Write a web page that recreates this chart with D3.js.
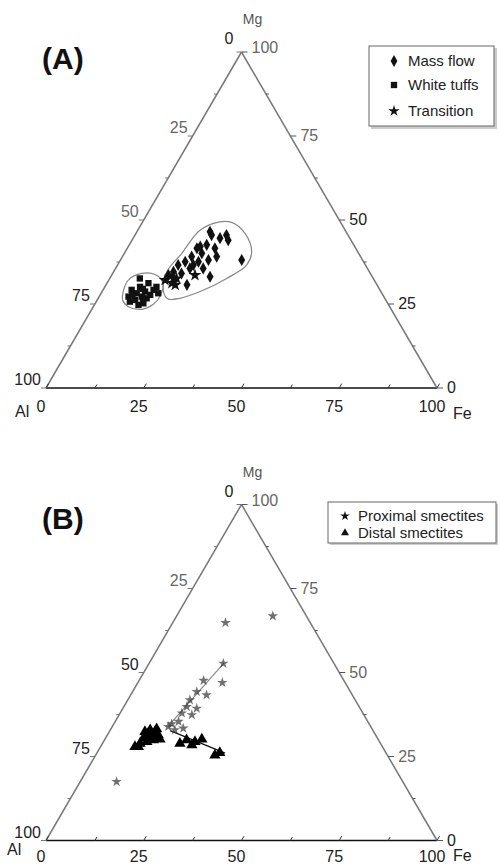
<!DOCTYPE html>
<html>
<head>
<meta charset="utf-8">
<script src="https://cdn.jsdelivr.net/npm/d3@7"></script>
<style>
  body { margin: 0; background: #fff; }
  text { font-family: "Liberation Sans", Arial, sans-serif; }
</style>
</head>
<body>
<div id="chart"></div>
<script>
// Al-Fe-Mg ternary, every point is [Fe %, Mg %] and Al = 100 - Fe - Mg

// panel (A)
var whiteTuffs = [[7.5,27.2],[7.3,29.2],[9.7,26.2],[9.1,28.2],[9.0,30.1],[10.9,27.2],[12.3,25.2],[11.0,28.7],
  [10.6,31.2],[12.8,27.7],[12.9,29.2],[13.2,30.1],[14.6,28.2],[7.7,32.6],[8.6,25.7],[12.4,26.7],[11.3,24.7],
  [8.2,27.8],[10.0,29.5],[11.8,26.0]];
var massFlow = [[14.5,33.6],[15.3,34.6],[15.5,36.6],[17.6,34.1],[16.8,37.6],[20.7,30.7],[19.0,35.6],[17.7,39.1],
  [17.8,41.6],[20.2,37.6],[19.8,40.1],[22.4,35.6],[19.8,42.6],[22.5,38.1],[25.4,33.1],[19.6,45.5],[22.4,41.6],
  [24.1,39.1],[22.2,44.6],[23.4,45.5],[24.6,44.0],[31.0,38.1],[18.7,46.5],[18.4,42.1],[19.4,36.6],[16.0,33.0]];
var transition = [[14.4,32.1],[16.6,31.2],[17.1,32.6],[21.3,33.6],[17.7,30.7]];
var envelopeTuffs = [[5.4,28.7],[5.0,32.1],[7.4,34.1],[11.0,33.8],[14.0,31.6],[15.5,27.7],[15.0,24.9],
  [12.8,23.4],[9.0,24.2],[6.5,26.2]];
var envelopeMassFlow = [[15.7,28.7],[13.6,34.6],[14.7,40.1],[15.7,46.5],[18.3,49.0],[22.8,49.3],[27.9,46.0],
  [32.3,40.6],[33.0,36.6],[29.9,32.6],[25.1,28.7],[20.9,26.7],[18.0,26.5]];

// panel (B)
var proximal = [[19.0,52.7],[21.6,47.0],[16.5,47.6],[16.4,44.3],[19.4,43.3],[15.9,41.8],[16.1,39.8],[18.9,39.3],
  [15.8,37.9],[18.6,37.4],[16.2,35.4],[14.8,34.7],[14.3,33.9],[18.4,33.4],[16.5,32.9],[13.5,64.8],[24.6,66.8],[9.3,17.5]];
var distal = [[8.8,27.9],[9.6,28.9],[9.7,30.4],[10.2,31.9],[10.2,32.9],[11.7,32.4],[13.0,31.4],[12.5,29.9],
  [11.1,29.4],[14.1,30.1],[9.1,32.4],[9.7,27.9],[11.7,33.2],[10.8,30.8],[12.0,30.8],
  [19.8,28.9],[21.0,29.9],[23.1,28.4],[23.4,29.4],[24.8,30.1],[30.5,25.4],[31.4,26.1]];
var proximalTrend = [[14.2,33.9],[19.1,52.8]];
var distalTrend = [[15.4,32.7],[32.8,26.0]];

var majorTicks = [0, 25, 50, 75, 100];
var minorTicks = [12.5, 37.5, 62.5, 87.5];

var svg = d3.select("#chart").append("svg")
  .attr("width", 500)
  .attr("height", 865);

var side = 391, tall = 336, left = 46;

function makePanel(base, opts) {
  var g = svg.append("g");

  // x scale works on Fe + Mg/2, y scale on Mg
  var x = d3.scaleLinear().domain([0, 100]).range([left, left + side]);
  var y = d3.scaleLinear().domain([0, 100]).range([base, base - tall]);
  function px(d) { return [x(d[0] + d[1] / 2), y(d[1])]; }

  var A = px([0, 0]), F = px([100, 0]), M = px([0, 100]);

  // edges
  g.append("line").attr("x1", A[0]).attr("y1", A[1]).attr("x2", F[0]).attr("y2", F[1])
    .attr("stroke", "#111").attr("stroke-width", 1.5);
  g.append("line").attr("x1", A[0]).attr("y1", A[1]).attr("x2", M[0]).attr("y2", M[1])
    .attr("stroke", "#777").attr("stroke-width", 1.5);
  g.append("line").attr("x1", F[0]).attr("y1", F[1]).attr("x2", M[0]).attr("y2", M[1])
    .attr("stroke", "#777").attr("stroke-width", 1.5);

  var allTicks = majorTicks.concat(minorTicks);

  // bottom (Fe)
  allTicks.forEach(function (v) {
    var p = px([v, 0]);
    var l = majorTicks.indexOf(v) >= 0 ? 5 : 4;
    g.append("line").attr("x1", p[0]).attr("y1", p[1]).attr("x2", p[0] + l * 0.5).attr("y2", p[1] - l * 0.87)
      .attr("stroke", "#333").attr("stroke-width", 1);
  });
  g.selectAll(".fe").data(majorTicks).enter().append("text")
    .attr("x", function (v) { return px([v, 0])[0] - 5; })
    .attr("y", base + opts.feDy)
    .attr("text-anchor", "middle")
    .attr("font-size", 16).attr("fill", "#222")
    .text(function (v) { return v; });

  // left (Al), 100 at the bottom, 0 at the apex
  allTicks.forEach(function (v) {
    var p = px([0, 100 - v]);
    var l = majorTicks.indexOf(v) >= 0 ? 5 : 3;
    g.append("line").attr("x1", p[0]).attr("y1", p[1]).attr("x2", p[0] - l).attr("y2", p[1])
      .attr("stroke", "#777").attr("stroke-width", 1);
  });
  g.selectAll(".al").data(majorTicks).enter().append("text")
    .attr("x", function (v) { return px([0, 100 - v])[0] - (v == 0 ? 8 : 5); })
    .attr("y", function (v) { return px([0, 100 - v])[1] - (v == 0 ? 8 : 3); })
    .attr("text-anchor", "end")
    .attr("font-size", 16).attr("fill", function (v) { return opts.grayAl.indexOf(v) >= 0 ? "#666" : "#222"; })
    .text(function (v) { return v; });

  // right (Mg), 0 at the bottom, 100 at the apex
  allTicks.forEach(function (v) {
    var p = px([100 - v, v]);
    var l = majorTicks.indexOf(v) >= 0 ? 6 : 3;
    g.append("line").attr("x1", p[0]).attr("y1", p[1]).attr("x2", p[0] + l).attr("y2", p[1])
      .attr("stroke", "#555").attr("stroke-width", 1);
  });
  g.selectAll(".mg").data(majorTicks).enter().append("text")
    .attr("x", function (v) { return px([100 - v, v])[0] + 10; })
    .attr("y", function (v) { return px([100 - v, v])[1] + (v == 100 ? 1 : 5); })
    .attr("text-anchor", "start")
    .attr("font-size", 16).attr("fill", function (v) { return opts.grayMg.indexOf(v) >= 0 ? "#666" : "#222"; })
    .text(function (v) { return v; });

  // vertex names
  g.append("text").attr("x", M[0] + 11).attr("y", M[1] - 28).attr("text-anchor", "middle")
    .attr("font-size", 14).attr("fill", "#555").text("Mg");
  g.append("text").attr("x", opts.alX).attr("y", opts.alY).attr("font-size", 16).attr("fill", "#222").text("Al");
  g.append("text").attr("x", 453).attr("y", opts.feY).attr("font-size", 16).attr("fill", "#222").text("Fe");

  // panel letter
  g.append("text").attr("x", 42).attr("y", opts.letterY)
    .attr("font-size", 30).attr("font-weight", "bold").attr("fill", "#111").text(opts.letter);

  return { g: g, px: px };
}

var sym = function (type, size) { return d3.symbol().type(type).size(size)(); };

function dots(panel, data, type, size, fill, opacity) {
  panel.g.append("g").selectAll("path")
    .data(data).enter().append("path")
    .attr("d", sym(type, size))
    .attr("transform", function (d) { var p = panel.px(d); return "translate(" + p[0] + "," + p[1] + ")"; })
    .attr("fill", fill)
    .attr("opacity", opacity);
}

// ---------- (A) ----------
var pa = makePanel(388, { letter: "(A)", letterY: 69, alX: 15, alY: 417, feY: 419, feDy: 24,
  grayAl: [25, 50], grayMg: [75, 100] });

var envLine = d3.line().curve(d3.curveCatmullRomClosed.alpha(0.5));
[envelopeTuffs, envelopeMassFlow].forEach(function (env) {
  pa.g.append("path")
    .attr("d", envLine(env.map(pa.px)))
    .attr("fill", "none").attr("stroke", "#888").attr("stroke-width", 1.2);
});

dots(pa, whiteTuffs, d3.symbolSquare, 40, "#111", 1);
dots(pa, massFlow, d3.symbolDiamond, 42, "#111", 1);
dots(pa, transition, d3.symbolStar, 50, "#111", 1);

// legend (A)
var la = svg.append("g");
la.append("rect").attr("x", 371).attr("y", 48).attr("width", 126).attr("height", 81).attr("fill", "#ccc");
la.append("rect").attr("x", 369).attr("y", 46).attr("width", 125).attr("height", 80)
  .attr("fill", "#fff").attr("stroke", "#666").attr("stroke-width", 1);
var legA = [["Mass flow", d3.symbolDiamond, 61], ["White tuffs", d3.symbolSquare, 85], ["Transition", d3.symbolStar, 111]];
legA.forEach(function (d) {
  la.append("path").attr("d", sym(d[1], 40)).attr("transform", "translate(394," + d[2] + ")").attr("fill", "#111");
  la.append("text").attr("x", 408).attr("y", d[2] + 5).attr("font-size", 15).attr("fill", "#222").text(d[0]);
});

// ---------- (B) ----------
var pb = makePanel(840.5, { letter: "(B)", letterY: 529, alX: 7, alY: 855, feY: 861, feDy: 21.5,
  grayAl: [25], grayMg: [75, 50, 25, 100] });

var straight = d3.line();
pb.g.append("path").attr("d", straight(proximalTrend.map(pb.px)))
  .attr("fill", "none").attr("stroke", "#888").attr("stroke-width", 1.2);
pb.g.append("path").attr("d", straight(distalTrend.map(pb.px)))
  .attr("fill", "none").attr("stroke", "#111").attr("stroke-width", 1.2);

dots(pb, proximal, d3.symbolStar, 34, "#333", 0.7);
dots(pb, distal, d3.symbolTriangle, 55, "#000", 1);

// legend (B)
var lb = svg.append("g");
lb.append("rect").attr("x", 330).attr("y", 504).attr("width", 168).attr("height", 41).attr("fill", "#ccc");
lb.append("rect").attr("x", 328).attr("y", 502).attr("width", 168).attr("height", 41)
  .attr("fill", "#fff").attr("stroke", "#666").attr("stroke-width", 1);
var legB = [["Proximal smectites", d3.symbolStar, 516], ["Distal smectites", d3.symbolTriangle, 533]];
legB.forEach(function (d) {
  lb.append("path").attr("d", sym(d[1], 28)).attr("transform", "translate(345," + d[2] + ")").attr("fill", "#111");
  lb.append("text").attr("x", 358).attr("y", d[2] + 5).attr("font-size", 15).attr("fill", "#222").text(d[0]);
});
</script>
</body>
</html>
